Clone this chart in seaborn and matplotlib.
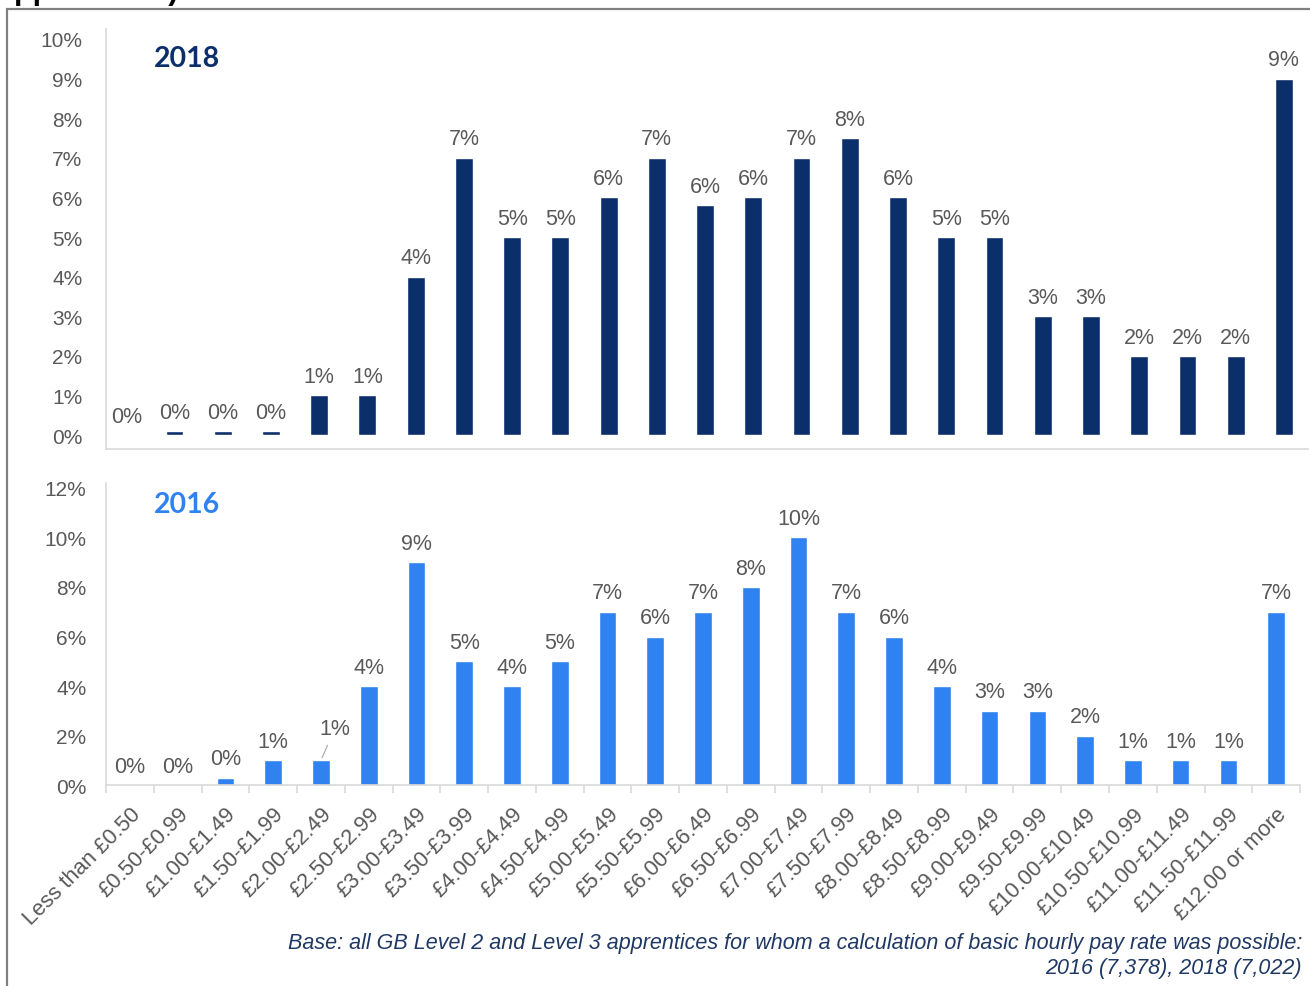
"""Hourly pay distribution of apprentices, 2018 vs 2016."""

import matplotlib

matplotlib.use("Agg")

import matplotlib.pyplot as plt
import seaborn as sns
from matplotlib.patches import Rectangle
from matplotlib.ticker import FixedLocator

BANDS = [
    "Less than £0.50", "£0.50-£0.99", "£1.00-£1.49", "£1.50-£1.99", "£2.00-£2.49",
    "£2.50-£2.99", "£3.00-£3.49", "£3.50-£3.99", "£4.00-£4.49", "£4.50-£4.99",
    "£5.00-£5.49", "£5.50-£5.99", "£6.00-£6.49", "£6.50-£6.99", "£7.00-£7.49",
    "£7.50-£7.99", "£8.00-£8.49", "£8.50-£8.99", "£9.00-£9.49", "£9.50-£9.99",
    "£10.00-£10.49", "£10.50-£10.99", "£11.00-£11.49", "£11.50-£11.99", "£12.00 or more",
]
SHARE_2018 = [0, 0.1, 0.1, 0.1, 1, 1, 4, 7, 5, 5, 6, 7, 5.8, 6, 7, 7.5, 6, 5, 5, 3, 3, 2, 2, 2, 9]
SHARE_2016 = [0, 0, 0.3, 1, 1, 4, 9, 5, 4, 5, 7, 6, 7, 8, 10, 7, 6, 4, 3, 3, 2, 1, 1, 1, 7]
TICKS_2018 = list(range(0, 11))
TICKS_2016 = list(range(0, 13, 2))

NAVY = "#0A2F6B"
BLUE = "#2F82EF"
GREY_TEXT = "#595959"
AXIS = "#D9D9D9"
NOTE = "#1F3864"
FOOTNOTE = (
    "Base: all GB Level 2 and Level 3 apprentices for whom a calculation of basic hourly pay rate was possible:\n"
    "2016 (7,378), 2018 (7,022)"
)


def draw_panel(ax, values, color, title, yticks, ylim, xlim, label_moves):
    sns.barplot(x=BANDS, y=values, color=color, saturation=1, width=0.37,
                errorbar=None, ax=ax)
    for i, (patch, value) in enumerate(zip(ax.patches, values)):
        dx, dy = label_moves.get(i, (0, 0))
        ax.annotate(
            f"{value:.0f}%",
            (patch.get_x() + patch.get_width() / 2, value),
            xytext=(dx, 6 + dy),
            textcoords="offset points",
            ha="center",
            va="bottom",
            fontsize=15.5,
            color=GREY_TEXT,
            arrowprops={"arrowstyle": "-", "color": "#A6A6A6", "lw": 0.8} if i in label_moves else None,
        )
    ax.set_ylim(*ylim)
    ax.set_xlim(*xlim)
    ax.set_yticks(yticks)
    ax.set_yticklabels([f"{t}%" for t in yticks])
    ax.set_xlabel("")
    ax.set_ylabel("")
    ax.spines[["top", "right"]].set_visible(False)
    ax.spines[["left", "bottom"]].set_color(AXIS)
    ax.spines[["left", "bottom"]].set_linewidth(1.2)
    ax.tick_params(axis="y", length=0, labelsize=15, labelcolor=GREY_TEXT)
    ax.text(0.04, 0.93, title, transform=ax.transAxes, fontsize=20.5, fontweight="bold",
            family="Lato", color=color, va="center")


sns.set_theme(style="white")
plt.rcParams["font.family"] = ["Liberation Sans", "DejaVu Sans"]

fig = plt.figure(figsize=(13.1, 9.87), dpi=100)
ax_top = fig.add_axes([0.0809, 0.5441, 0.9176, 0.4255])
ax_bot = fig.add_axes([0.0809, 0.2036, 0.9115, 0.3060])

draw_panel(ax_top, SHARE_2018, NAVY, "2018", TICKS_2018, (-0.35, 10.25), (-0.42, 24.5), {})
ax_top.tick_params(axis="x", length=0, labelbottom=False)
ax_top.tick_params(axis="y", pad=17)

draw_panel(ax_bot, SHARE_2016, BLUE, "2016", TICKS_2016, (0, 12.2), (-0.5, 24.5), {4: (10, 9)})
ax_bot.tick_params(axis="y", pad=14)
ax_bot.set_xticks(range(len(BANDS)))
ax_bot.set_xticklabels(BANDS, rotation=45, ha="right", va="top", rotation_mode="anchor",
                       fontsize=15.8, color=GREY_TEXT)
ax_bot.xaxis.set_minor_locator(FixedLocator([i - 0.5 for i in range(len(BANDS) + 1)]))
ax_bot.tick_params(axis="x", which="major", length=0, pad=13)
ax_bot.tick_params(axis="x", which="minor", length=6, width=1.2, color=AXIS, bottom=True)

fig.text(0.9939, 1 - 933 / 987, FOOTNOTE, ha="right", va="top", style="italic",
         fontsize=15.5, color=NOTE, linespacing=1.25)
fig.text(-0.002, 1 + 1 / 987, "apprentices)", ha="left", va="baseline", fontsize=22,
         fontweight="bold", color="black")
fig.add_artist(Rectangle((0.0053, -0.05), 1.1, 1.0399, transform=fig.transFigure,
                         fill=False, edgecolor="#808080", linewidth=1.6))

fig.savefig("out.png", dpi=100, facecolor="white")
